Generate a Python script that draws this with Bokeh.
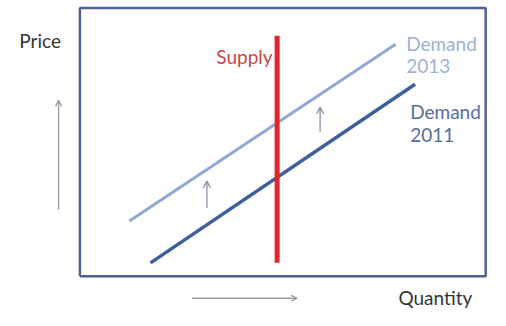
from bokeh.plotting import figure
from bokeh.models import ColumnDataSource, Arrow, OpenHead, Range1d
from bokeh.core.properties import value
from bokeh.embed import file_html
from bokeh.resources import INLINE

# ---- data (quantity / price units; box spans 0..10 on both) ----
supply_q = [4.86, 4.86]
supply_p = [0.5, 8.97]

demand2013_q = [1.22, 7.78]
demand2013_p = [2.06, 8.65]

demand2011_q = [1.74, 8.26]
demand2011_p = [0.5, 7.16]

box_q = [0, 10, 10, 0, 0]
box_p = [0, 0, 10, 10, 0]

# shift arrows (demand moves up)
shift_q = [3.13, 5.92]
shift_p0 = [2.55, 5.39]
shift_p1 = [3.55, 6.31]

# axis arrows
price_arrow_q = [-0.525, -0.525]
price_arrow_p = [2.48, 6.56]
qty_arrow_q = [2.77, 5.35]
qty_arrow_p = [-0.82, -0.82]

# labels
axis_label_text = ["Price", "Quantity"]
axis_label_q = [-0.98, 8.76]
axis_label_p = [8.79, -0.80]

supply_label = ["Supply"]
supply_label_q = [4.75]
supply_label_p = [8.19]

d2013_label = ["Demand", "2013"]
d2013_label_q = [8.04, 8.04]
d2013_label_p = [8.69, 7.84]

d2011_label = ["Demand", "2011"]
d2011_label_q = [8.14, 8.14]
d2011_label_p = [6.13, 5.25]

# ---- figure: frame covers whole canvas ----
W, H = 490, 310
p = figure(width=W, height=H, output_backend="svg", toolbar_location=None,
           min_border=0)
p.x_range = Range1d(-1.957, 10.119)
p.y_range = Range1d(-1.277, 10.284)
p.axis.visible = False
p.grid.visible = False
p.outline_line_color = None
p.background_fill_color = "white"
p.border_fill_color = "white"

# box
p.line(box_q, box_p, line_color="#4f6190", line_width=2.5)

# demand lines
p.line(demand2013_q, demand2013_p, line_color="#8eaad2", line_width=3)
p.line(demand2011_q, demand2011_p, line_color="#3f5f9c", line_width=3.5)

# supply
p.line(supply_q, supply_p, line_color="#e3262b", line_width=5)

arrow_color = "#8c8fa3"
shift_src = ColumnDataSource(dict(x0=shift_q, y0=shift_p0, x1=shift_q, y1=shift_p1))
p.add_layout(Arrow(source=shift_src, x_start="x0", y_start="y0", x_end="x1", y_end="y1",
                   line_color=arrow_color, line_width=1.3,
                   end=OpenHead(size=7, line_color=arrow_color, line_width=1.3)))

axis_src = ColumnDataSource(dict(
    x0=[price_arrow_q[0], qty_arrow_q[0]], y0=[price_arrow_p[0], qty_arrow_p[0]],
    x1=[price_arrow_q[1], qty_arrow_q[1]], y1=[price_arrow_p[1], qty_arrow_p[1]]))
p.add_layout(Arrow(source=axis_src, x_start="x0", y_start="y0", x_end="x1", y_end="y1",
                   line_color="#9a9a9a", line_width=1.3,
                   end=OpenHead(size=6, line_color="#9a9a9a", line_width=1.3)))

font = value("Lato")
fs = "19px"
p.text(axis_label_q, axis_label_p, text=axis_label_text, text_font=font,
       text_font_size=fs, text_color="#353535", text_align="center",
       text_baseline="middle")
p.text(supply_label_q, supply_label_p, text=supply_label, text_font=font,
       text_font_size=fs, text_color="#c4454a", text_align="right",
       text_baseline="middle")
p.text(d2013_label_q, d2013_label_p, text=d2013_label, text_font=font,
       text_font_size=fs, text_color="#9cb2d4", text_align="left",
       text_baseline="middle")
p.text(d2011_label_q, d2011_label_p, text=d2011_label, text_font=font,
       text_font_size=fs, text_color="#55709c", text_align="left",
       text_baseline="middle")

open("out.html", "w").write(file_html(p, INLINE))
